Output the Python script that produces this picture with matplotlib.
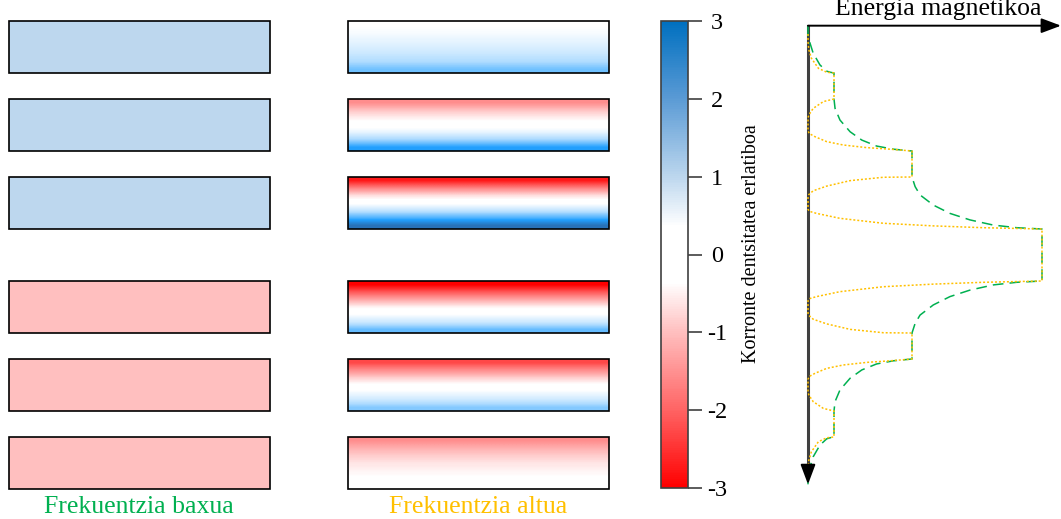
import numpy as np
import matplotlib
matplotlib.use("Agg")
import matplotlib.pyplot as plt
from matplotlib.colors import LinearSegmentedColormap, Normalize
from matplotlib.patches import Rectangle
import matplotlib.cm as cm

plt.rcParams['font.family'] = ['Liberation Serif', 'DejaVu Serif']
plt.rcParams['axes.unicode_minus'] = False

# ---- data ----
# conductor layout along the winding (position units, top of each conductor)
cond_top = [0, 3, 6, 10, 13, 16]
cond_h = 2

# relative current density, low frequency (uniform in each conductor)
low_freq = [1, 1, 1, -1, -1, -1]

# relative current density, high frequency (samples from top to bottom of each conductor)
high_freq = [
    [0.15, 0.25, 0.4, 0.55, 0.75, 1.0, 1.45],
    [-1.4, -0.8, -0.35, 0.0, 0.45, 1.1, 2.0],
    [-2.7, -1.5, -0.5, 0.1, 0.8, 1.7, 2.8],
    [-3.0, -2.0, -1.1, -0.3, 0.2, 0.7, 1.5],
    [-2.2, -1.4, -0.7, -0.1, 0.3, 0.7, 1.3],
    [-1.4, -1.0, -0.7, -0.45, -0.3, -0.15, -0.05],
]

cbar_ticks = [-3, -2, -1, 0, 1, 2, 3]
cbar_labels = ['-3', '-2', '-1', '0', '1', '2', '3']

# magnetic energy, low frequency (energy, position)
green_E = [0, 0, 0.08, 0.2, 0.46, 0.72, 0.85, 1.0,
           1.0, 1.04, 1.23, 1.62, 2.07, 2.64, 3.28, 4.0,
           4.0, 4.12, 4.31, 4.82, 5.46, 6.23, 7.13, 8.03, 9.0,
           9.0, 8.03, 7.13, 6.23, 5.46, 4.82, 4.31, 4.12, 4.0,
           4.0, 3.28, 2.64, 2.07, 1.62, 1.23, 1.04, 1.0,
           1.0, 0.85, 0.72, 0.46, 0.2, 0.08, 0, 0]
green_p = [0.18, 0.5, 0.86, 1.24, 1.69, 1.93, 1.97, 2.0,
           3.0, 3.36, 3.81, 4.26, 4.58, 4.81, 4.93, 5.0,
           6.0, 6.37, 6.69, 7.08, 7.40, 7.65, 7.85, 7.95, 8.0,
           10.0, 10.05, 10.15, 10.35, 10.60, 10.92, 11.31, 11.63, 12.0,
           13.0, 13.07, 13.19, 13.42, 13.74, 14.19, 14.64, 15.0,
           16.0, 16.03, 16.07, 16.31, 16.76, 17.14, 17.5, 17.82]

# magnetic energy, high frequency (energy, position)
orange_E = [0, 0, 0.03, 0.13, 0.4, 0.72, 1.0,
            1.0, 0.59, 0.2, 0.04, 0, 0, 0.05, 0.27, 0.72, 1.36, 2.26, 3.15, 4.0,
            4.0, 2.9, 1.62, 0.72, 0.2, 0.03, 0, 0, 0.05, 0.33, 1.23, 2.9, 4.82, 6.74, 9.0,
            9.0, 6.74, 4.82, 2.9, 1.23, 0.33, 0.05, 0, 0, 0.03, 0.2, 0.72, 1.62, 2.9, 4.0,
            4.0, 3.15, 2.26, 1.36, 0.72, 0.27, 0.05, 0, 0, 0.04, 0.2, 0.59, 1.0,
            1.0, 0.72, 0.4, 0.13, 0.03, 0, 0]
orange_p = [0.5, 0.8, 1.1, 1.43, 1.82, 1.97, 2.0,
            3.0, 3.1, 3.36, 3.6, 3.72, 4.22, 4.33, 4.45, 4.64, 4.77, 4.87, 4.93, 5.0,
            6.0, 6.01, 6.14, 6.35, 6.53, 6.68, 6.76, 7.24, 7.32, 7.40, 7.59, 7.78, 7.88, 7.95, 8.0,
            10.0, 10.05, 10.12, 10.22, 10.41, 10.60, 10.68, 10.76, 11.24, 11.32, 11.47, 11.65, 11.86, 11.99, 12.0,
            13.0, 13.07, 13.13, 13.23, 13.36, 13.55, 13.67, 13.78, 14.28, 14.4, 14.64, 14.9, 15.0,
            16.0, 16.03, 16.18, 16.57, 16.9, 17.2, 17.5]

# ---- colours ----
norm = Normalize(-3, 3)
cmap_bar = LinearSegmentedColormap.from_list('bar', [
    (0.0, '#FF0000'), (1 / 6, '#FF6464'), (2 / 6, '#FFBFBF'), (0.44, '#FFFFFF'),
    (0.56, '#FFFFFF'), (4 / 6, '#BDD7EE'), (5 / 6, '#5B9BD5'), (1.0, '#0070C0')])
cmap_grad = LinearSegmentedColormap.from_list('grad', [
    (0.0, '#FF0000'), (1 / 6, '#FF5A5A'), (2 / 6, '#FFB0B0'), (0.47, '#FFFFFF'),
    (0.53, '#FFFFFF'), (4 / 6, '#B0DCFF'), (5 / 6, '#22A0FF'), (1.0, '#2A68A8')])

W, H = 1061, 519
fig = plt.figure(figsize=(W / 100, H / 100), dpi=100)

ax = fig.add_axes([0, 0, 1, 1])


def py(p):
    return 21 + 26 * p


for i, top in enumerate(cond_top):
    y0 = py(top)
    h = 26 * cond_h
    # low frequency column
    ax.add_patch(Rectangle((9, y0), 261, h, facecolor=cmap_bar(norm(low_freq[i])),
                           edgecolor='black', lw=1.2, zorder=2))
    # high frequency column
    vals = np.array(high_freq[i]).reshape(-1, 1)
    ax.imshow(vals, cmap=cmap_grad, norm=norm, extent=(348, 609, y0 + h, y0),
              aspect='auto', interpolation='bilinear', zorder=1)
    ax.add_patch(Rectangle((348, y0), 261, h, fill=False, edgecolor='black', lw=1.2, zorder=3))

ax.text(139, 513, 'Frekuentzia baxua', color='#00B050', fontsize=18.5, ha='center', va='baseline')
ax.text(478, 513, 'Frekuentzia altua', color='#FFC000', fontsize=18.5, ha='center', va='baseline')
ax.set_xlim(0, W)
ax.set_ylim(H, 0)
ax.axis('off')

# ---- colorbar ----
cax = fig.add_axes([661 / W, (H - 488) / H, 27 / W, 467 / H])
sm = cm.ScalarMappable(norm=norm, cmap=cmap_bar)
cb = fig.colorbar(sm, cax=cax, ticks=cbar_ticks)
cb.set_ticklabels(cbar_labels)
cb.outline.set_edgecolor('#404040')
cb.outline.set_linewidth(1.2)
cax.tick_params(direction='out', length=10, width=1.2, color='#404040', labelsize=17.5, pad=11)
for lbl in cax.get_yticklabels():
    lbl.set_horizontalalignment('center')
fig.text(752 / W, 1 - 244 / H, 'Korronte dentsitatea erlatiboa', rotation=90,
         fontsize=14.5, ha='center', va='center')

# ---- magnetic energy ----
eax = fig.add_axes([780 / W, 0, 281 / W, 1])
eax.set_xlim(-28 / 26, 253 / 26)
eax.set_ylim(498 / 26, -21 / 26)
eax.axis('off')

eax.plot(green_E, green_p, color='#00B050', lw=1.1, dashes=(7, 4), zorder=3)
eax.plot(orange_E, orange_p, color='#FFC000', lw=1.1, linestyle=(0, (1.3, 1.3)), zorder=4)

eax.plot([0, 0], [0.18, 17.5], color='#404040', lw=2.2, zorder=2)
eax.annotate('', xy=(0, 17.93), xytext=(0, 17.2),
             arrowprops=dict(arrowstyle='-|>,head_length=0.8,head_width=0.3',
                             color='black', lw=1.5, mutation_scale=15), zorder=5)
eax.annotate('', xy=(253 / 26, 0.18), xytext=(0, 0.18),
             arrowprops=dict(arrowstyle='-|>,head_length=0.8,head_width=0.3',
                             color='black', lw=1.4, mutation_scale=15,
                             shrinkA=0, shrinkB=0), zorder=5)
eax.text(5.0, -0.23, 'Energia magnetikoa', fontsize=18.5, ha='center', va='baseline')

fig.savefig('out.png', dpi=100)
